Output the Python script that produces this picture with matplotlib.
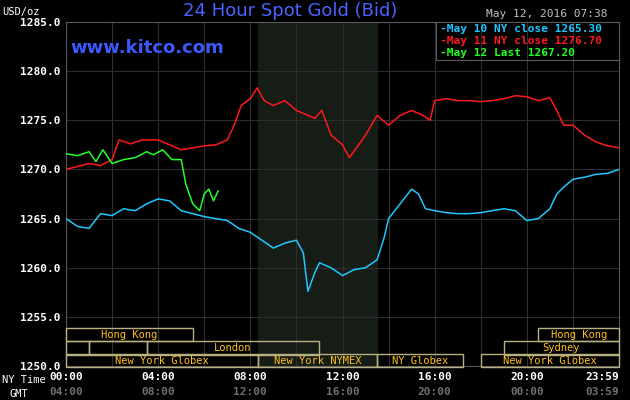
import matplotlib
matplotlib.use("Agg")
import matplotlib.pyplot as plt
from matplotlib.patches import Rectangle

# ------------------------------------
# Data (hours after 00:00 NY time, USD/oz)
# ------------------------------------
may10_h = [0, 0.5, 1, 1.5, 2, 2.5, 3, 3.5, 4, 4.5, 5, 5.5, 6, 6.5, 7, 7.5, 8, 8.5, 9, 9.5, 10, 10.3,
           10.5, 10.8, 11, 11.5, 12, 12.5, 13, 13.5, 13.8, 14, 14.5, 15, 15.3, 15.6, 16, 16.5, 17, 17.5,
           18, 18.5, 19, 19.5, 20, 20.5, 21, 21.3, 21.6, 22, 22.5, 23, 23.5, 24]
may10_p = [1265.0, 1264.2, 1264.0, 1265.5, 1265.3, 1266.0, 1265.8, 1266.5, 1267.0, 1266.8, 1265.8, 1265.5,
           1265.2, 1265.0, 1264.8, 1264.0, 1263.6, 1262.8, 1262.0, 1262.5, 1262.8, 1261.5,
           1257.6, 1259.5, 1260.5, 1260.0, 1259.2, 1259.8, 1260.0, 1260.8, 1263.0, 1265.0, 1266.5,
           1268.0, 1267.5, 1266.0, 1265.8, 1265.6, 1265.5, 1265.5, 1265.6, 1265.8, 1266.0, 1265.8,
           1264.8, 1265.0, 1266.0, 1267.5, 1268.2, 1269.0, 1269.2, 1269.5, 1269.6, 1270.0]
may11_h = [0, 0.5, 1, 1.5, 2, 2.3, 2.8, 3.3, 4, 4.5, 5, 5.5, 6, 6.5, 7, 7.3, 7.6, 8, 8.3, 8.6, 9, 9.5, 10,
           10.5, 10.8, 11.1, 11.5, 12, 12.3, 12.7, 13, 13.5, 14, 14.5, 15, 15.5, 15.8, 16, 16.5, 17,
           17.5, 18, 18.5, 19, 19.5, 20, 20.5, 21, 21.3, 21.6, 22, 22.5, 23, 23.5, 24]
may11_p = [1270.0, 1270.3, 1270.6, 1270.4, 1271.0, 1273.0, 1272.6, 1273.0, 1273.0, 1272.5, 1272.0,
           1272.2, 1272.4, 1272.5, 1273.0, 1274.5, 1276.5, 1277.2, 1278.3, 1277.0, 1276.5, 1277.0,
           1276.0, 1275.5, 1275.2, 1276.0, 1273.5, 1272.5, 1271.2, 1272.5, 1273.5, 1275.5, 1274.5,
           1275.5, 1276.0, 1275.5, 1275.0, 1277.0, 1277.2, 1277.0, 1277.0, 1276.9, 1277.0, 1277.2,
           1277.5, 1277.4, 1277.0, 1277.3, 1276.0, 1274.5, 1274.5, 1273.5, 1272.8, 1272.4, 1272.2]
may12_h = [0, 0.5, 1, 1.3, 1.6, 2, 2.5, 3, 3.5, 3.8, 4.2, 4.6, 5, 5.2, 5.5, 5.8, 6, 6.2, 6.4, 6.6]
may12_p = [1271.6, 1271.4, 1271.8, 1270.8, 1272.0, 1270.6, 1271.0, 1271.2, 1271.8, 1271.5, 1272.0,
           1271.0, 1271.0, 1268.5, 1266.5, 1265.8, 1267.5, 1268.0, 1266.8, 1267.8]

legend_labels = ["May 10 NY close 1265.30", "May 11 NY close 1276.70", "May 12 Last 1267.20"]
ny_ticks = ["00:00", "04:00", "08:00", "12:00", "16:00", "20:00", "23:59"]
gmt_ticks = ["04:00", "08:00", "12:00", "16:00", "20:00", "00:00", "03:59"]
tick_hours = [0, 4, 8, 12, 16, 20, 24]
y_ticks = [1250, 1255, 1260, 1265, 1270, 1275, 1280, 1285]

# market sessions: (row, start, end, label)
sessions = [
    (0, 0, 5.5, "Hong Kong"), (0, 20.5, 24, "Hong Kong"),
    (1, 0, 1.0, ""), (1, 1.0, 3.5, ""), (1, 3.5, 11.0, "London"), (1, 19.0, 24, "Sydney"),
    (2, 0, 8.33, "New York Globex"), (2, 8.33, 13.5, "New York NYMEX"),
    (2, 13.5, 17.25, "NY Globex"), (2, 18.0, 24, "New York Globex"),
]
nymex = (8.33, 13.5)

BLUE, RED, GREEN = "#1ec8ff", "#ff1a1a", "#22ff22"
GOLD = "#ffc21a"
mono = "DejaVu Sans Mono"

fig = plt.figure(figsize=(6.3, 4.0), dpi=100, facecolor="black")
ax = fig.add_axes([66 / 630, 34 / 400, 553 / 630, 344 / 400], facecolor="black")
ax.set_xlim(0, 24)
ax.set_ylim(1250, 1285)

ax.axvspan(*nymex, color="#161c16", zorder=0)
for h in range(2, 24, 2):
    ax.axvline(h, color="#2e2e2e", lw=0.8, zorder=1)
for v in y_ticks[1:-1]:
    ax.axhline(v, color="#2e2e2e", lw=0.8, zorder=1)

ax.plot(may10_h, may10_p, color=BLUE, lw=1.1, zorder=3)
ax.plot(may11_h, may11_p, color=RED, lw=1.1, zorder=3)
ax.plot(may12_h, may12_p, color=GREEN, lw=1.1, zorder=4)

# session boxes
row_y = [1252.5, 1251.1, 1249.85]
row_hgt = 1.4
for row, s, e, lab in sessions:
    ax.add_patch(Rectangle((s, row_y[row]), e - s, row_hgt, fill=False,
                           ec="#b8b080", lw=1.0, zorder=5, clip_on=False))
    if lab:
        ax.text((s + e) / 2, row_y[row] + row_hgt / 2, lab, color=GOLD,
                fontsize=7.5, family=mono, ha="center", va="center", zorder=6)

for sp in ax.spines.values():
    sp.set_color("#5a5a5a")
ax.set_xticks([])
ax.set_yticks(y_ticks)
ax.set_yticklabels([f"{v:.1f}" for v in y_ticks], color="white", fontsize=8,
                   family=mono, fontweight="bold")
ax.tick_params(axis="y", length=0, pad=4)

for h, ny, gmt in zip(tick_hours, ny_ticks, gmt_ticks):
    ha = "right" if h == 24 else "center"
    ax.text(h, 1248.9, ny, color="white", fontsize=8, family=mono,
            fontweight="bold", ha=ha, va="center", clip_on=False)
    ax.text(h, 1247.4, gmt, color="#707070", fontsize=8, family=mono,
            fontweight="bold", ha=ha, va="center", clip_on=False)
fig.text(2 / 630, 1 - 380 / 400, "NY Time", color="white", fontsize=7.5, family=mono, va="center")
fig.text(10 / 630, 1 - 394 / 400, "GMT", color="white", fontsize=7.5, family=mono, va="center")
fig.text(2 / 630, 1 - 12 / 400, "USD/oz", color="white", fontsize=7.5, family=mono, va="center")

fig.text(290 / 630, 1 - 11 / 400, "24 Hour Spot Gold (Bid)", color="#4a64ff",
         fontsize=13, ha="center", va="center")
fig.text(70 / 630, 1 - 48 / 400, "www.kitco.com", color="#3a5aff", fontsize=13,
         fontweight="bold", ha="left", va="center")
fig.text(608 / 630, 1 - 14 / 400, "May 12, 2016 07:38", color="#c0c0c0", fontsize=8,
         family=mono, ha="right", va="center")

# legend box
lx0, ly0 = 436 / 630, 1 - 60 / 400
fig.patches.append(Rectangle((lx0, ly0), (619 - 436) / 630, 38 / 400, fill=False,
                             ec="#5a5a5a", lw=0.8, transform=fig.transFigure))
for i, (lab, col) in enumerate(zip(legend_labels, [BLUE, RED, GREEN])):
    yy = 1 - (29 + i * 12) / 400
    fig.text(440 / 630, yy, "-" + lab, color=col, fontsize=8, family=mono,
             fontweight="bold", va="center")

fig.savefig("out.png", dpi=100, facecolor="black")
